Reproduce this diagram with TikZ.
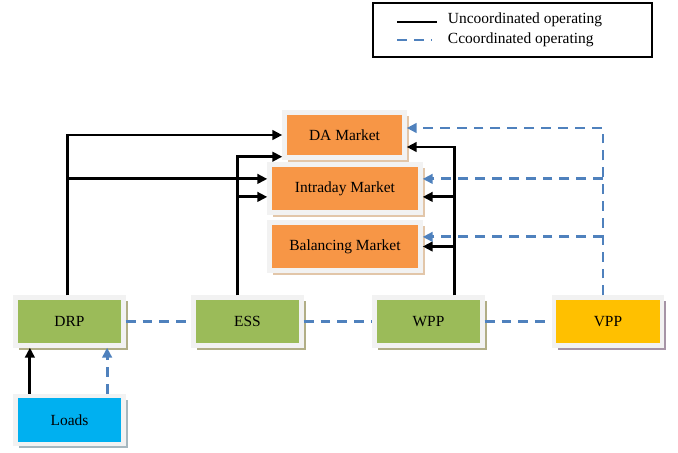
\documentclass[tikz,border=0pt]{standalone}
\usepackage{fontspec}
\setmainfont{Liberation Serif}
\usepackage{tikz}
\usetikzlibrary{arrows.meta,shadows}

\definecolor{mktorange}{HTML}{F79646}
\definecolor{unitgreen}{HTML}{9BBB59}
\definecolor{loadblue}{HTML}{00B0F0}
\definecolor{vppgold}{HTML}{FFC000}
\definecolor{coordblue}{HTML}{4F81BD}
\definecolor{framegray}{HTML}{F2F2F2}

\tikzset{
  unit/.style={draw=framegray,line width=0.11cm,minimum width=2.7cm,minimum height=1.2cm,
    font=\fontsize{11}{13}\selectfont,
    drop shadow={shadow xshift=0.1cm,shadow yshift=-0.1cm,opacity=1,fill=#1}},
  market/.style={unit=#1,minimum width=3.775cm},
  uncoord/.style={line width=2pt,-{Triangle[length=0.25cm,width=0.24cm]}},
  coord/.style={line width=2pt,coordblue,dash pattern=on 7pt off 5pt,
    -{Triangle[length=0.25cm,width=0.24cm]}},
  coordline/.style={line width=2pt,coordblue,dash pattern=on 7pt off 5pt}
}

\begin{document}
\begin{tikzpicture}[x=0.025cm,y=-0.025cm]
\useasboundingbox (0,0) rectangle (678,453);
% legend
\draw [line width=0.8pt] (373,3) rectangle (652,57);
\coordinate (lga) at (397,22);
\coordinate (lgb) at (437,22);
\coordinate (lgc) at (397,40);
\coordinate (lgd) at (431,40);
\draw [line width=2pt] (lga)--(lgb);
\draw [coordline] (lgc)--(lgd);
\node [anchor=west,font=\fontsize{11}{13}\selectfont] (lgu) at (443,20) {Uncoordinated operating};
\node [anchor=west,font=\fontsize{11}{13}\selectfont] (lgcc) at (443,40) {Ccoordinated operating};
% markets
\node [market=brown!45,fill=mktorange,minimum width=3cm,minimum height=1.125cm] (DA) at (344.5,135) {DA Market};
\node [market=brown!45,fill=mktorange] (ID) at (345,188.5) {Intraday Market};
\node [market=brown!45,fill=mktorange] (BM) at (345,246.5) {Balancing Market};
% units
\node [unit=olive!35!gray!70,fill=unitgreen] (DRP) at (69.5,321.5) {DRP};
\node [unit=olive!35!gray!70,fill=unitgreen] (ESS) at (247.5,321.5) {ESS};
\node [unit=olive!35!gray!70,fill=unitgreen] (WPP) at (428.5,321.5) {WPP};
\node [unit=violet!20!gray!70,fill=vppgold] (VPP) at (608,321.5) {VPP};
\node [unit=cyan!20!gray!70,fill=loadblue] (LD) at (69.5,420) {Loads};
% uncoordinated arrows
\coordinate (drpup) at ([xshift=-0.06cm]DRP.north);
\coordinate (essup) at ([xshift=-0.26cm]ESS.north);
\coordinate (wppup) at ([xshift=0.64cm]WPP.north);
\coordinate (idw1) at ([yshift=0.24cm]ID.west);
\coordinate (idw2) at ([yshift=-0.21cm]ID.west);
\coordinate (daw2) at ([yshift=0.075cm]DA.south west);
\coordinate (dae2) at ([yshift=-0.3cm]DA.east);
\coordinate (ide2) at ([yshift=-0.21cm]ID.east);
\draw [uncoord] (drpup) |- (DA.west);
\draw [uncoord] (drpup |- idw1) -- (idw1);
\draw [uncoord] (essup) |- (daw2);
\draw [uncoord] (essup |- idw2) -- (idw2);
\draw [uncoord] (wppup) |- (dae2);
\draw [uncoord] (wppup |- ide2) -- (ide2);
\draw [uncoord] (wppup |- BM.east) -- (BM.east);
\draw [uncoord] ([xshift=-0.99cm]LD.north) -- ([xshift=-0.99cm]DRP.south);
% coordinated arrows
\coordinate (vppup) at ([xshift=-0.125cm]VPP.north);
\coordinate (dae1) at ([yshift=0.175cm]DA.east);
\coordinate (ide1) at ([yshift=0.24cm]ID.east);
\coordinate (bme1) at ([yshift=0.24cm]BM.east);
\draw [coord] (vppup) |- (dae1);
\draw [coord] (vppup |- ide1) -- (ide1);
\draw [coord] (vppup |- bme1) -- (bme1);
\draw [coord] ([xshift=0.94cm]LD.north) -- ([xshift=0.94cm]DRP.south);
\draw [coordline] (DRP.east) -- (ESS.west);
\draw [coordline] (ESS.east) -- (WPP.west);
\draw [coordline] (WPP.east) -- (VPP.west);
\end{tikzpicture}
\end{document}
